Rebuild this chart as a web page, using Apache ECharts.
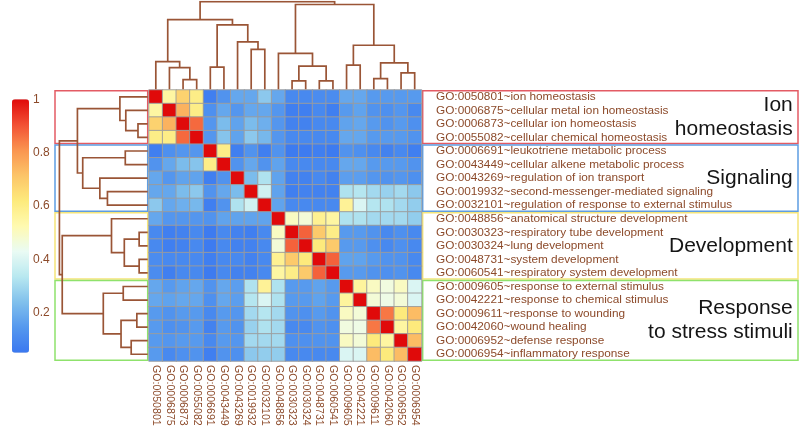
<!DOCTYPE html>
<html>
<head>
<meta charset="utf-8">
<script src="https://cdn.jsdelivr.net/npm/echarts@6/dist/echarts.min.js"></script>
<style>html,body{margin:0;padding:0;background:#fff;}#c{width:802px;height:432px;}</style>
</head>
<body>
<div id="c"></div>
<script>
// ---------- data ----------
const goIds = ['GO:0050801','GO:0006875','GO:0006873','GO:0055082','GO:0006691','GO:0043449','GO:0043269','GO:0019932','GO:0032101','GO:0048856','GO:0030323','GO:0030324','GO:0048731','GO:0060541','GO:0009605','GO:0042221','GO:0009611','GO:0042060','GO:0006952','GO:0006954'];
const termNames = [
 'GO:0050801~ion homeostasis',
 'GO:0006875~cellular metal ion homeostasis',
 'GO:0006873~cellular ion homeostasis',
 'GO:0055082~cellular chemical homeostasis',
 'GO:0006691~leukotriene metabolic process',
 'GO:0043449~cellular alkene metabolic process',
 'GO:0043269~regulation of ion transport',
 'GO:0019932~second-messenger-mediated signaling',
 'GO:0032101~regulation of response to external stimulus',
 'GO:0048856~anatomical structure development',
 'GO:0030323~respiratory tube development',
 'GO:0030324~lung development',
 'GO:0048731~system development',
 'GO:0060541~respiratory system development',
 'GO:0009605~response to external stimulus',
 'GO:0042221~response to chemical stimulus',
 'GO:0009611~response to wounding',
 'GO:0042060~wound healing',
 'GO:0006952~defense response',
 'GO:0006954~inflammatory response'
];
const similarity = [
 [1,.55,.68,.60,.07,.13,.18,.18,.26,.18,.10,.10,.11,.11,.18,.18,.15,.15,.15,.15],
 [.55,1,.75,.60,.12,.18,.14,.18,.18,.14,.07,.07,.10,.07,.15,.17,.13,.12,.14,.10],
 [.68,.75,1,.87,.14,.23,.17,.23,.20,.14,.08,.08,.10,.10,.17,.18,.15,.13,.15,.12],
 [.60,.60,.87,1,.14,.25,.17,.26,.22,.14,.10,.10,.10,.10,.18,.18,.15,.15,.15,.13],
 [.07,.12,.14,.14,1,.60,.07,.13,.07,.13,.06,.06,.07,.06,.13,.12,.10,.08,.10,.07],
 [.13,.18,.23,.25,.60,1,.13,.18,.13,.17,.10,.10,.10,.10,.18,.18,.15,.15,.15,.13],
 [.18,.14,.17,.17,.07,.13,1,.23,.32,.17,.08,.08,.10,.08,.16,.16,.14,.13,.14,.12],
 [.18,.18,.23,.26,.13,.18,.23,1,.38,.17,.07,.08,.08,.08,.32,.33,.30,.28,.30,.26],
 [.26,.18,.20,.22,.07,.13,.32,.38,1,.17,.10,.10,.10,.10,.57,.40,.33,.32,.30,.27],
 [.18,.14,.14,.14,.13,.17,.17,.17,.17,1,.50,.47,.58,.55,.32,.32,.30,.30,.30,.27],
 [.10,.07,.08,.10,.06,.10,.08,.07,.10,.50,1,.88,.70,.60,.15,.15,.13,.10,.12,.10],
 [.10,.07,.08,.10,.06,.10,.08,.08,.10,.47,.88,1,.62,.70,.15,.15,.12,.10,.12,.10],
 [.11,.10,.10,.10,.07,.10,.10,.08,.10,.58,.70,.62,1,.88,.17,.17,.15,.13,.13,.10],
 [.11,.07,.10,.10,.06,.10,.08,.08,.10,.55,.60,.70,.88,1,.15,.15,.13,.12,.13,.10],
 [.18,.15,.17,.18,.13,.18,.16,.32,.57,.32,.15,.15,.17,.15,1,.56,.50,.46,.50,.40],
 [.18,.17,.18,.18,.12,.18,.16,.33,.40,.32,.15,.15,.17,.15,.56,1,.47,.45,.47,.40],
 [.15,.13,.15,.15,.10,.15,.14,.30,.33,.30,.13,.12,.15,.13,.50,.47,1,.85,.62,.73],
 [.15,.12,.13,.15,.08,.15,.13,.28,.32,.30,.10,.10,.13,.12,.46,.45,.85,1,.55,.62],
 [.15,.14,.15,.15,.10,.15,.14,.30,.30,.30,.12,.12,.13,.13,.50,.47,.62,.55,1,.73],
 [.15,.10,.12,.13,.07,.13,.12,.26,.27,.27,.10,.10,.10,.10,.40,.40,.73,.62,.73,1]
];
// hierarchical clustering merges: [childA, childB, height]; leaves 0..19, clusters 20+k
const merges = [
 [2,3,0.11],[1,20,0.248],[0,21,0.315],[4,5,0.254],[7,8,0.456],[6,24,0.542],
 [23,25,0.736],[22,26,0.796],[10,11,0.097],[12,13,0.097],[28,29,0.265],[9,30,0.41],
 [14,15,0.277],[16,17,0.123],[18,19,0.187],[33,34,0.302],[32,35,0.503],[31,36,0.968],[27,37,1.0]
];
const groupNames = ['Ion\nhomeostasis','Signaling','Development','Response\nto stress stimuli'];
const groupStart = [0,4,9,14];
const groupEnd = [4,9,14,20];
const groupColors = ['#e35b64','#5e9de2','#f5e57a','#8fe26c'];
const colorbarTicks = [0.2,0.4,0.6,0.8,1];
const scaleMin = 0.05, scaleMax = 1;

// ---------- build ----------
const brown = '#8c4a2a';
const lineBrown = '#9a5536';
const font = 'Liberation Sans, Arial, sans-serif';
const heatData = [];
similarity.forEach((row, r) => row.forEach((v, c) => heatData.push([c, r, v])));

const pos = [], hgt = [], segs = [];
for (let i = 0; i < goIds.length; i++) { pos[i] = i + 0.5; hgt[i] = 0; }
merges.forEach(([a, b, h], k) => {
  const id = goIds.length + k;
  pos[id] = (pos[a] + pos[b]) / 2; hgt[id] = h;
  segs.push([[pos[a], hgt[a]], [pos[a], h], [pos[b], h], [pos[b], hgt[b]]]);
});
const topSegs = segs.map(s => ({coords: s}));
const leftSegs = segs.map(s => ({coords: s.map(p => [p[1], p[0]])}));
const inset = 0.06;
const leftBoxes = groupStart.map((s, i) => [
  {yAxis: s + inset, itemStyle: {borderColor: groupColors[i]}}, {yAxis: groupEnd[i] - inset}]);
const rightBoxes = groupStart.map((s, i) => [
  {name: groupNames[i], yAxis: s + inset, itemStyle: {borderColor: groupColors[i]}}, {yAxis: groupEnd[i] - inset}]);

const hide = {show: false};
const chart = echarts.init(document.getElementById('c'));
chart.setOption({
  animation: false,
  textStyle: {fontFamily: font},
  grid: [
    {left: 149, top: 90, width: 272.5, height: 271},
    {left: 149, top: 1.7, width: 272.5, height: 87.6},
    {left: 55, top: 90, width: 92.7, height: 271},
    {left: 422.7, top: 90, width: 375.3, height: 271},
    {left: 12, top: 99.3, width: 17, height: 253.4}
  ],
  xAxis: [
    {type: 'category', gridIndex: 0, data: goIds, position: 'bottom',
     axisLine: hide, axisTick: hide, splitLine: hide,
     axisLabel: {rotate: -90, margin: 4, fontSize: 10.6, color: brown, interval: 0, fontFamily: font}},
    {type: 'value', gridIndex: 1, min: 0, max: goIds.length, show: false},
    {type: 'value', gridIndex: 2, min: 0, max: 1.05, inverse: true, show: false},
    {type: 'value', gridIndex: 3, min: 0, max: 1, show: false},
    {type: 'value', gridIndex: 4, min: 0, max: 1, show: false}
  ],
  yAxis: [
    {type: 'category', gridIndex: 0, data: termNames, inverse: true, position: 'right',
     axisLine: hide, axisTick: hide, splitLine: hide,
     axisLabel: {margin: 14.5, fontSize: 11.8, color: brown, interval: 0, fontFamily: font}},
    {type: 'value', gridIndex: 1, min: 0, max: 1, show: false},
    {type: 'value', gridIndex: 2, min: 0, max: goIds.length, inverse: true, show: false},
    {type: 'value', gridIndex: 3, min: 0, max: goIds.length, inverse: true, show: false},
    {type: 'value', gridIndex: 4, min: scaleMin, max: scaleMax, position: 'right',
     axisLine: hide, axisTick: hide, splitLine: hide,
     axisLabel: {customValues: colorbarTicks, margin: 4, fontSize: 12, color: brown, fontFamily: font}}
  ],
  visualMap: {
    type: 'continuous', min: scaleMin, max: scaleMax, seriesIndex: 0,
    left: 12, top: 99.3, itemWidth: 17, itemHeight: 253.4, padding: 0,
    calculable: false, showLabel: false, text: null, hoverLink: false,
    inRange: {color: ['#3a78f0','#5598ee','#80c0ec','#b8e8f0','#eafbf4','#fffab0','#fdea7c','#fcc468','#fa9450','#f25034','#e00a0a']}
  },
  series: [
    {type: 'heatmap', xAxisIndex: 0, yAxisIndex: 0, data: heatData,
     itemStyle: {borderColor: '#9c9c9c', borderWidth: 0.9}, emphasis: {disabled: true}},
    {type: 'lines', coordinateSystem: 'cartesian2d', xAxisIndex: 1, yAxisIndex: 1, polyline: true,
     data: topSegs, lineStyle: {color: lineBrown, width: 1.7, opacity: 1}, silent: true},
    {type: 'lines', coordinateSystem: 'cartesian2d', xAxisIndex: 2, yAxisIndex: 2, polyline: true,
     data: leftSegs, lineStyle: {color: lineBrown, width: 1.7, opacity: 1}, silent: true,
     markArea: {silent: true, itemStyle: {color: 'rgba(0,0,0,0)', borderWidth: 1.5}, data: leftBoxes}},
    {type: 'scatter', xAxisIndex: 3, yAxisIndex: 3, data: [], silent: true,
     markArea: {silent: true, itemStyle: {color: 'rgba(0,0,0,0)', borderWidth: 1.5},
       label: {show: true, position: 'insideRight', distance: 6, formatter: '{b}', fontSize: 21,
               lineHeight: 24, color: '#151515', align: 'right', fontFamily: font},
       data: rightBoxes}}
  ]
});
</script>
</body>
</html>
